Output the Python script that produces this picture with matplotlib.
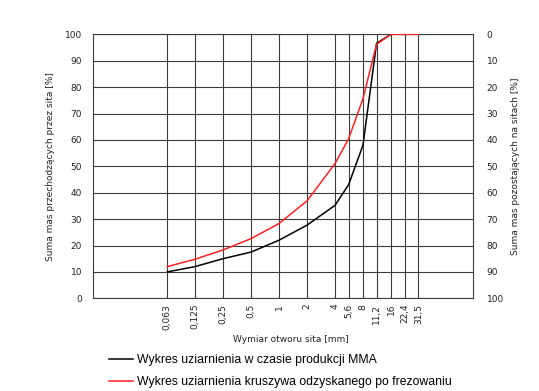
import numpy as np
import matplotlib.pyplot as plt
from matplotlib.ticker import FixedLocator, NullLocator

# ---------------- Daten ------------------------------------------------------
sita = [0.063, 0.125, 0.25, 0.5, 1, 2, 4, 5.6, 8, 11.2, 16, 22.4, 31.5]
sita_labels = ["0,063", "0,125", "0,25", "0,5", "1", "2", "4", "5,6", "8",
               "11,2", "16", "22,4", "31,5"]
przesiew_mma = [10, 12, 15, 17.5, 22, 27.7, 35.2, 43, 58, 96.6, 100, 100, 100]
przesiew_frez = [12, 14.8, 18.3, 22.6, 28.3, 36.9, 51, 60.4, 75.6, 96.2, 100, 100, 100]

etykieta_mma = "Wykres uziarnienia w czasie produkcji MMA"
etykieta_frez = "Wykres uziarnienia kruszywa odzyskanego po frezowaniu"

# ---------------- Wykres -----------------------------------------------------
fig = plt.figure(figsize=(5.39, 3.91), dpi=100)
W, H = 539, 391
x0, x1, y0, y1 = 93.3, 472.7, 34.3, 298.3
ax = fig.add_axes([x0 / W, 1 - y1 / H, (x1 - x0) / W, (y1 - y0) / H])

grid_col = "#3c3c3c"
ax.set_xscale("log", base=2)
px_oct = 28.0
xmin = 0.063 * 2 ** ((x0 - 167.3) / px_oct)
xmax = 0.063 * 2 ** ((x1 - 167.3) / px_oct)
ax.set_xlim(xmin, xmax)
ax.set_ylim(0, 100)

ax.xaxis.set_major_locator(FixedLocator(sita))
ax.xaxis.set_minor_locator(NullLocator())
ax.set_xticklabels(sita_labels, rotation=90, fontsize=6.5, color="#222222")
ax.set_yticks(np.arange(0, 101, 10))
ax.tick_params(axis="y", labelsize=6.5, length=0, pad=8, labelcolor="#222222")
ax.tick_params(axis="x", length=0, pad=4)
ax.grid(True, color=grid_col, linewidth=0.8)
for s in ax.spines.values():
    s.set_color(grid_col)
    s.set_linewidth(0.8)

ax.plot(sita, przesiew_mma, color="black", linewidth=1.1, label=etykieta_mma, zorder=3)
ax.plot(sita, przesiew_frez, color="#ff2020", linewidth=1.1, label=etykieta_frez, zorder=4)

ax.set_ylabel("Suma mas przechodzących przez sita [%]", fontsize=6.5, color="#222222")
ax.yaxis.set_label_coords((55 - x0) / (x1 - x0), 0.5)

ax2 = ax.twinx()
ax2.set_ylim(100, 0)
ax2.set_yticks(np.arange(0, 101, 10))
ax2.tick_params(axis="y", labelsize=6.5, length=0, pad=10, labelcolor="#222222")
ax2.set_ylabel("Suma mas pozostających na sitach [%]", fontsize=6.5, color="#222222")
ax2.yaxis.set_label_coords((511 - x0) / (x1 - x0), 0.5)
for s in ax2.spines.values():
    s.set_visible(False)

fig.text(291 / W, 1 - 340 / H, "Wymiar otworu sita [mm]", fontsize=6.5,
         color="#222222", ha="center", va="center")

h, l = ax.get_legend_handles_labels()
fig.legend(h, l, loc="upper left", bbox_to_anchor=(104 / W, 1 - 349 / H),
           frameon=False, prop={"family": "Liberation Sans", "size": 8.8},
           handlelength=2.0, handletextpad=0.3, labelspacing=0.85,
           borderaxespad=0)

fig.savefig("out.png", dpi=100)
